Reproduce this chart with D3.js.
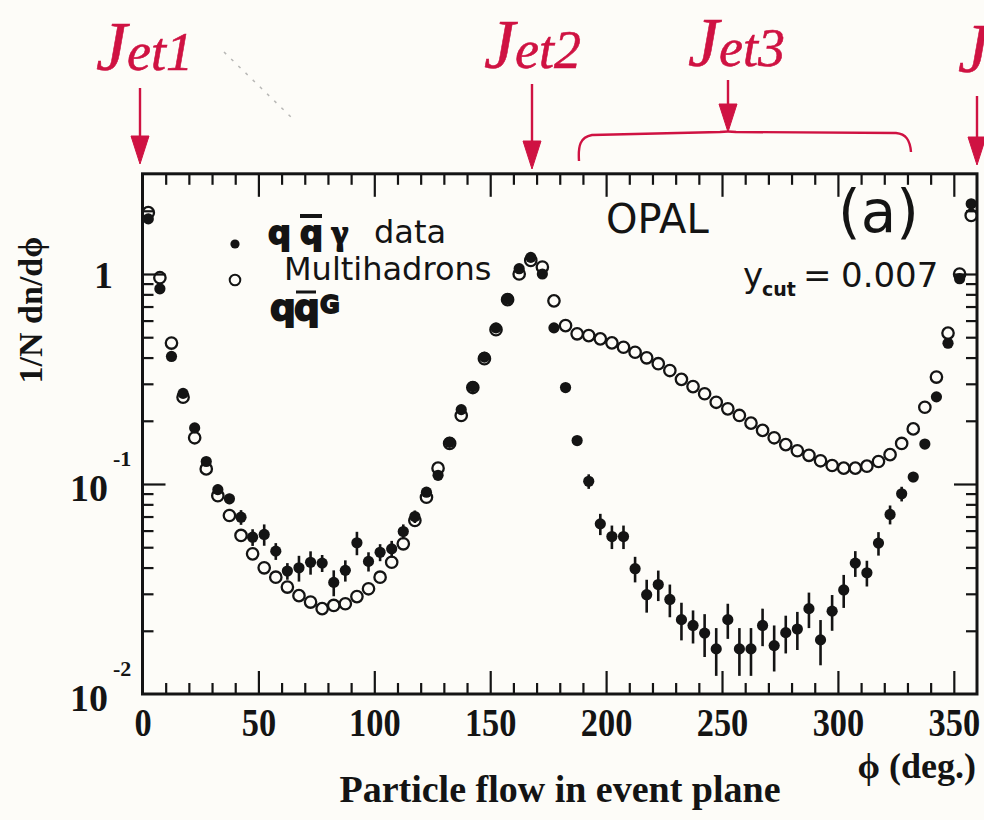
<!DOCTYPE html>
<html>
<head>
<meta charset="utf-8">
<script src="https://cdn.jsdelivr.net/npm/d3@7"></script>
<style>
  html, body { margin: 0; padding: 0; background: #fdfcf8; }
  svg { display: block; }
</style>
</head>
<body>
<svg id="chart" width="984" height="820"></svg>
<script>
// Azimuthal bin centres (degrees), 5-degree bins
const binCentres = [2.5,7.5,12.5,17.5,22.5,27.5,32.5,37.5,42.5,47.5,52.5,57.5,62.5,67.5,72.5,77.5,82.5,87.5,92.5,97.5,
  102.5,107.5,112.5,117.5,122.5,127.5,132.5,137.5,142.5,147.5,152.5,157.5,162.5,167.5,172.5,177.5,182.5,187.5,192.5,197.5,
  202.5,207.5,212.5,217.5,222.5,227.5,232.5,237.5,242.5,247.5,252.5,257.5,262.5,267.5,272.5,277.5,282.5,287.5,292.5,297.5,
  302.5,307.5,312.5,317.5,322.5,327.5,332.5,337.5,342.5,347.5,352.5,357.5];

// q qbar gamma events: 1/N dn/dphi and its statistical error
const photonData = [1.83,0.85,0.405,0.27,0.185,0.128,0.094,0.085,0.0695,0.0558,0.0575,0.0479,0.0385,0.0399,0.0424,0.042,0.034,0.0388,0.0525,0.0428,
  0.0473,0.0491,0.0594,0.070,0.0914,0.110,0.158,0.226,0.291,0.402,0.554,0.762,1.06,1.20,1.0,0.554,0.288,0.161,0.103,0.0646,
  0.0562,0.0562,0.0395,0.0297,0.0332,0.0282,0.0226,0.0212,0.0195,0.0164,0.0226,0.0164,0.0164,0.0212,0.017,0.0196,0.0204,0.0255,0.0181,0.0248,
  0.0313,0.042,0.0378,0.0523,0.0716,0.0898,0.108,0.155,0.26,0.468,0.95,2.16];
const photonErr = [0.055,0.026,0.012,0.008,0.0056,0.0045,0.0053,0.0048,0.0056,0.0051,0.0067,0.0044,0.0035,0.0056,0.0054,0.0039,0.0048,0.0045,0.0067,0.0045,
  0.0044,0.0045,0.0048,0.0048,0.0046,0.0044,0.0047,0.0068,0.0087,0.012,0.017,0.023,0.032,0.036,0.03,0.017,0.0086,0.008,0.0082,0.0075,
  0.0072,0.0072,0.0055,0.0053,0.0055,0.005,0.0046,0.0038,0.0045,0.0042,0.0043,0.0042,0.0042,0.0043,0.0042,0.004,0.0042,0.0049,0.0044,0.0048,
  0.0056,0.0059,0.0053,0.0067,0.0074,0.0072,0.006,0.0062,0.0078,0.014,0.029,0.065];

// Multihadron (q qbar G) events
const multihadrons = [1.96,0.96,0.469,0.259,0.166,0.118,0.088,0.0708,0.0569,0.0465,0.0399,0.036,0.0323,0.0294,0.0274,0.0255,0.0264,0.0269,0.0291,0.0317,
  0.036,0.0424,0.0519,0.067,0.0865,0.119,0.156,0.212,0.288,0.395,0.543,0.755,1.0,1.16,1.08,0.745,0.568,0.519,0.509,0.491,
  0.47,0.448,0.424,0.399,0.374,0.347,0.315,0.291,0.269,0.245,0.228,0.212,0.195,0.18,0.166,0.154,0.144,0.137,0.129,0.1225,
  0.119,0.119,0.1216,0.128,0.138,0.156,0.183,0.232,0.323,0.523,1.0,1.9];

// Axis ticks
const xMajorTicks = [0,50,100,150,200,250,300,350];
const xMinorTicks = [10,20,30,40,60,70,80,90,110,120,130,140,160,170,180,190,210,220,230,240,260,270,280,290,310,320,330,340];
const yMajorTicks = [0.1, 1];
const yMinorTicks = [0.02,0.03,0.04,0.05,0.06,0.07,0.08,0.09,0.2,0.3,0.4,0.5,0.6,0.7,0.8,0.9,2];
const yTickLabels = [{v: 1, base: "1", exp: ""}, {v: 0.1, base: "10", exp: "-1"}, {v: 0.01, base: "10", exp: "-2"}];

const INK = "#141414";
const RED = "#cf1242";
const SERIF = "'Liberation Serif', 'Times New Roman', serif";
const SANS = "'DejaVu Sans', sans-serif";

const svg = d3.select("#chart");

const x = d3.scaleLinear().domain([0, 360]).range([142.5, 977]);
const y = d3.scaleLog().domain([0.01, 3]).range([694, 694 - Math.log10(300) * 210]);

const frameL = x(0), frameR = x(360), frameT = y(3), frameB = y(0.01);

// ---- tick marks on all four sides, pointing inwards ----
function ticks(axisFn, scale, values, size, transform) {
  const g = svg.append("g").attr("transform", transform)
    .call(axisFn(scale).tickValues(values).tickSize(size).tickFormat(""));
  g.select(".domain").remove();
  g.selectAll(".tick line").attr("stroke", INK).attr("stroke-width", 2.2);
  return g;
}
ticks(d3.axisBottom, x, xMinorTicks, -11, `translate(0,${frameB})`);
ticks(d3.axisBottom, x, xMajorTicks.slice(1), -23, `translate(0,${frameB})`);
ticks(d3.axisTop, x, xMinorTicks, -11, `translate(0,${frameT})`);
ticks(d3.axisTop, x, xMajorTicks.slice(1), -23, `translate(0,${frameT})`);
ticks(d3.axisLeft, y, yMinorTicks, -11, `translate(${frameL},0)`);
ticks(d3.axisLeft, y, yMajorTicks, -23, `translate(${frameL},0)`);
ticks(d3.axisRight, y, yMinorTicks, -11, `translate(${frameR},0)`);
ticks(d3.axisRight, y, yMajorTicks, -23, `translate(${frameR},0)`);

// frame
svg.append("rect")
  .attr("x", frameL).attr("y", frameT)
  .attr("width", frameR - frameL).attr("height", frameB - frameT)
  .attr("fill", "none").attr("stroke", INK).attr("stroke-width", 3);

// ---- x tick labels ----
const xLab = svg.append("g").attr("transform", `translate(0,${frameB})`)
  .call(d3.axisBottom(x).tickValues(xMajorTicks).tickSize(0).tickPadding(14).tickFormat(d3.format("d")));
xLab.select(".domain").remove();
xLab.selectAll("text")
  .attr("font-family", SERIF).attr("font-weight", "bold").attr("font-size", 40)
  .attr("fill", INK).attr("transform", "scale(0.86,1)");

// ---- y tick labels (powers of ten) ----
const yLab = svg.append("g");
yTickLabels.forEach(t => {
  const yy = y(t.v);
  if (t.exp) {
    yLab.append("text").attr("x", 108).attr("y", yy + 17)
      .attr("text-anchor", "end")
      .attr("font-family", SERIF).attr("font-weight", "bold").attr("font-size", 38)
      .attr("fill", INK).text(t.base);
    yLab.append("text").attr("x", 113).attr("y", yy - 18)
      .attr("font-family", SERIF).attr("font-weight", "bold").attr("font-size", 22)
      .attr("fill", INK).text(t.exp);
  } else {
    yLab.append("text").attr("x", 113).attr("y", yy + 14)
      .attr("text-anchor", "end")
      .attr("font-family", SERIF).attr("font-weight", "bold").attr("font-size", 38)
      .attr("fill", INK).text(t.base);
  }
});

// ---- axis titles ----
svg.append("text")
  .attr("transform", "translate(42,310) rotate(-90)")
  .attr("text-anchor", "middle")
  .attr("font-family", SERIF).attr("font-weight", "bold").attr("font-size", 34)
  .attr("fill", INK).text("1/N dn/dϕ");

svg.append("text")
  .attr("x", 976).attr("y", 778).attr("text-anchor", "end")
  .attr("font-family", SERIF).attr("font-weight", "bold").attr("font-size", 36)
  .attr("fill", INK).text("ϕ (deg.)");

svg.append("text")
  .attr("x", 560).attr("y", 802).attr("text-anchor", "middle")
  .attr("font-family", SERIF).attr("font-weight", "bold").attr("font-size", 38)
  .attr("fill", INK).text("Particle flow in event plane");

// ---- data ----
const rows = binCentres.map((p, i) => ({phi: p, d: photonData[i], e: photonErr[i], m: multihadrons[i]}));
const plot = svg.append("g");

plot.selectAll("circle.open").data(rows).join("circle")
  .attr("class", "open")
  .attr("cx", r => x(r.phi)).attr("cy", r => y(r.m)).attr("r", 5.7)
  .attr("fill", "none").attr("stroke", INK).attr("stroke-width", 2.3);

plot.selectAll("line.err").data(rows).join("line")
  .attr("class", "err")
  .attr("x1", r => x(r.phi)).attr("x2", r => x(r.phi))
  .attr("y1", r => y(r.d - r.e)).attr("y2", r => y(r.d + r.e))
  .attr("stroke", INK).attr("stroke-width", 2.6);

plot.selectAll("circle.filled").data(rows).join("circle")
  .attr("class", "filled")
  .attr("cx", r => x(r.phi)).attr("cy", r => y(r.d)).attr("r", 5.6)
  .attr("fill", INK);

// ---- in-frame labels ----
svg.append("text").attr("x", 606).attr("y", 233)
  .attr("font-family", SANS).attr("font-size", 40).attr("fill", INK).text("OPAL");
svg.append("text").attr("x", 838).attr("y", 232)
  .attr("font-family", SANS).attr("font-size", 58).attr("fill", INK).text("(a)");
svg.append("text").attr("x", 743).attr("y", 287)
  .attr("font-family", SANS).attr("font-size", 34).attr("fill", INK).text("y");
svg.append("text").attr("x", 762).attr("y", 296)
  .attr("font-family", SANS).attr("font-weight", "bold").attr("font-size", 19).attr("fill", INK).text("cut");
svg.append("text").attr("x", 803).attr("y", 287)
  .attr("font-family", SANS).attr("font-size", 34).attr("fill", INK).text("=");
svg.append("text").attr("x", 841).attr("y", 287)
  .attr("font-family", SANS).attr("font-size", 34).attr("fill", INK).text("0.007");

// ---- legend ----
svg.append("circle").attr("cx", 235).attr("cy", 244).attr("r", 4.6).attr("fill", INK);
svg.append("circle").attr("cx", 235).attr("cy", 280).attr("r", 5.3)
  .attr("fill", "none").attr("stroke", INK).attr("stroke-width", 2);
svg.append("text").attr("x", 374).attr("y", 243)
  .attr("font-family", SANS).attr("font-size", 32).attr("fill", INK).text("data");
svg.append("text").attr("x", 284).attr("y", 280)
  .attr("font-family", SANS).attr("font-size", 32).attr("fill", INK).text("Multihadrons");

// handwritten process labels in black ink
const hand = svg.append("g").attr("fill", INK).attr("stroke", INK).attr("stroke-width", 1.8)
  .attr("font-family", SANS).attr("font-weight", "bold");
hand.append("text").attr("x", 268).attr("y", 244).attr("font-size", 32).text("q");
hand.append("text").attr("x", 300).attr("y", 244).attr("font-size", 32).text("q");
hand.append("line").attr("x1", 300).attr("x2", 322).attr("y1", 216).attr("y2", 216).attr("stroke-width", 4);
hand.append("text").attr("x", 332).attr("y", 244).attr("font-size", 34).attr("font-family", SERIF).text("γ");
hand.append("text").attr("x", 270).attr("y", 320).attr("font-size", 36).text("q");
hand.append("text").attr("x", 294).attr("y", 320).attr("font-size", 36).text("q");
hand.append("line").attr("x1", 296).attr("x2", 316).attr("y1", 292).attr("y2", 292).attr("stroke-width", 3);
hand.append("text").attr("x", 320).attr("y", 313).attr("font-size", 24).text("G");

// ---- red pen annotations: jet directions ----
const pen = svg.append("g").attr("fill", RED).attr("stroke", RED);
function jetLabel(x0, y0, label) {
  const t = pen.append("text").attr("x", x0).attr("y", y0)
    .attr("font-family", SERIF).attr("font-style", "italic").attr("stroke-width", 0.6);
  t.append("tspan").attr("font-size", 70).text("J");
  if (label) t.append("tspan").attr("font-size", 54).text(label);
}
function arrow(xa, y0, y1) {
  pen.append("line").attr("x1", xa).attr("x2", xa).attr("y1", y0).attr("y2", y1 - 20)
    .attr("stroke-width", 2.4);
  pen.append("path").attr("stroke-width", 1)
    .attr("d", `M${xa - 9},${y1 - 28} L${xa + 9},${y1 - 28} L${xa},${y1} Z`);
}
jetLabel(96, 70, "et1");
jetLabel(484, 68, "et2");
jetLabel(688, 66, "et3");
jetLabel(958, 72, "");
arrow(140, 88, 164);
arrow(532, 84, 169);
arrow(728, 80, 132);
arrow(977, 96, 165);
pen.append("path").attr("fill", "none").attr("stroke-width", 2.4)
  .attr("d", "M579,161 C578,146 580,137 592,135 L720,132 Q728,131 736,132 L896,133 C906,134 910,140 911,152");

// faint pencil stroke
svg.append("line").attr("x1", 224).attr("y1", 52).attr("x2", 292).attr("y2", 118)
  .attr("stroke", "#8a8a8a").attr("stroke-opacity", 0.6).attr("stroke-width", 1.5)
  .attr("stroke-dasharray", "3 7");
</script>
</body>
</html>
